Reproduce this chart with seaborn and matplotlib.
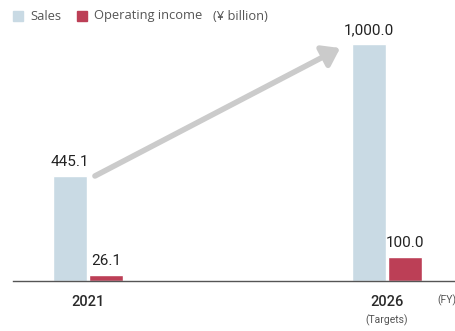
import matplotlib
matplotlib.use("Agg")
import matplotlib.pyplot as plt
import seaborn as sns
import pandas as pd
from matplotlib.patches import FancyArrowPatch

years = ["2021", "2026"]
sales = [445.1, 1000.0]
income = [26.1, 100.0]
sales_labels = ["445.1", "1,000.0"]
income_labels = ["26.1", "100.0"]
series = ["Sales", "Operating income"]

sns.set_theme(style="white")
plt.rcParams['font.family'] = ['Roboto', 'DejaVu Sans']

df = pd.DataFrame({
    "year": years * 2,
    "value": sales + income,
    "series": [series[0]] * 2 + [series[1]] * 2,
})

colors = {"Sales": "#c9dae4", "Operating income": "#bc3f56"}

fig = plt.figure(figsize=(4.55, 3.31), dpi=100)
ax = fig.add_axes([13 / 455, 50 / 331, 442 / 455, 237 / 331])
sns.barplot(data=df, x="year", y="value", hue="series", palette=colors,
            width=0.241, gap=0.056, ax=ax, legend=False, saturation=1)
ax.set_xlim(-0.251, 1.227)
ax.set_ylim(0, 1000)
for s in ["top", "left", "right"]:
    ax.spines[s].set_visible(False)
ax.spines["bottom"].set_color("#555555")
ax.spines["bottom"].set_linewidth(1)
ax.set_yticks([])
ax.set_xlabel("")
ax.set_ylabel("")
ax.tick_params(axis="x", length=0, pad=10)
ax.set_xticks([0, 1])
ax.set_xticklabels(years, fontsize=10.5, color="#2a2a2a", fontweight="medium")

# value labels
for cont, labs in zip(ax.containers, [sales_labels, income_labels]):
    ax.bar_label(cont, labels=labs, padding=5, fontsize=11, color="#222222")

ax.text(1, -0.167, "(Targets)", transform=ax.get_xaxis_transform(),
        ha="center", va="center", fontsize=7.5, color="#555555")
ax.text(1.2, -0.08, "(FY)", transform=ax.get_xaxis_transform(),
        ha="center", va="center", fontsize=7.5, color="#555555", clip_on=False)

# arrow
arr = FancyArrowPatch((0.023, sales[0] - 2), (0.843, sales[1] - 17),
                      arrowstyle="-|>,head_length=10,head_width=7",
                      color="#cbcbcb", linewidth=4, mutation_scale=1,
                      shrinkA=0, shrinkB=0)
ax.add_patch(arr)

# legend
fig.patches.append(plt.Rectangle((13 / 455, 1 - 21 / 331), 10 / 455, 10 / 331,
                                 transform=fig.transFigure, color=colors["Sales"]))
fig.patches.append(plt.Rectangle((77 / 455, 1 - 21 / 331), 10 / 455, 10 / 331,
                                 transform=fig.transFigure, color=colors["Operating income"]))
lf = ["Open Sans", "DejaVu Sans"]
fig.text(30 / 455, 1 - 16 / 331, "Sales", fontsize=9.3, color="#555555",
         va="center", family=lf)
fig.text(94 / 455, 1 - 16 / 331, "Operating income", fontsize=9.3, color="#555555",
         va="center", family=lf)
fig.text(213 / 455, 1 - 16 / 331, "(¥ billion)", fontsize=9.3, color="#555555",
         va="center", family=lf)

fig.savefig("out.png", dpi=100)
